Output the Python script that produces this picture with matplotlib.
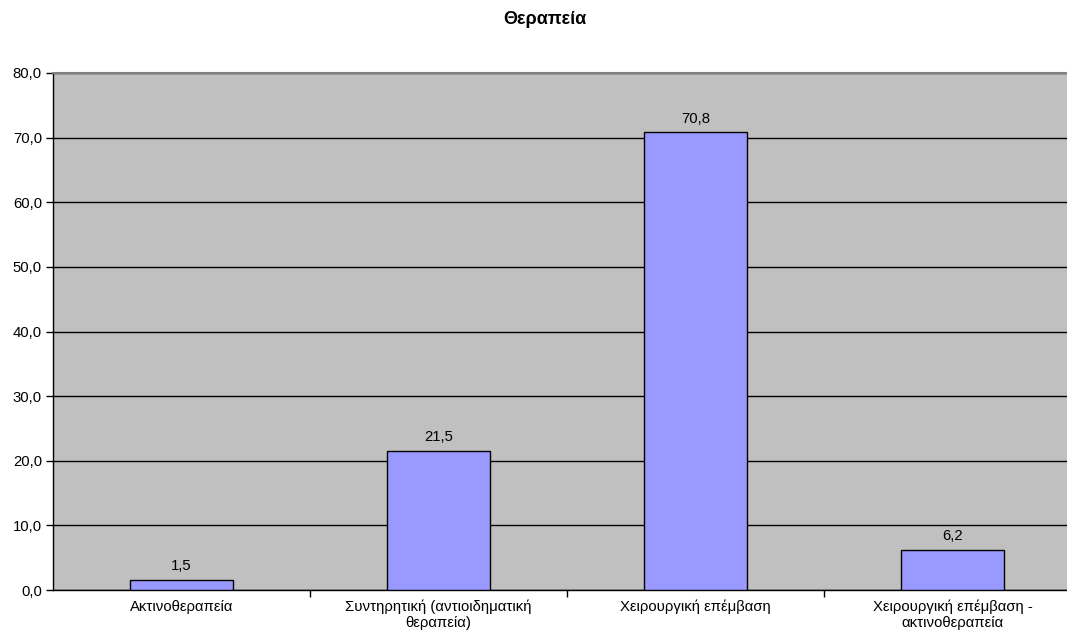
import numpy as np
import matplotlib.pyplot as plt
from matplotlib.ticker import FixedLocator, FuncFormatter

plt.rcParams['font.family'] = ['Liberation Sans', 'DejaVu Sans']

title = "Θεραπεία"
categories = [
    "Ακτινοθεραπεία",
    "Συντηρητική (αντιοιδηματική\nθεραπεία)",
    "Χειρουργική επέμβαση",
    "Χειρουργική επέμβαση -\nακτινοθεραπεία",
]
values = [1.5, 21.5, 70.8, 6.2]

W, H = 1067, 640
fig = plt.figure(figsize=(W / 100, H / 100), dpi=100)
# plot area runs a little past the right edge of the canvas
ax = fig.add_axes([53 / W, 50 / H, 1028 / W, 517 / H])
ax.set_facecolor("#C0C0C0")

x = np.arange(len(categories))
bars = ax.bar(x, values, width=0.4, color="#9999FF", edgecolor="black", linewidth=1, zorder=3)

for xi, v in zip(x, values):
    ax.annotate(f"{v:.1f}".replace(".", ","), (xi, v), xytext=(0, 5), textcoords="offset points",
                ha="center", va="bottom", fontsize=10.7)

ax.set_xlim(-0.5, len(categories) - 0.5)
ax.set_ylim(0, 80)
ax.set_yticks(np.arange(0, 81, 10))
ax.yaxis.set_major_formatter(FuncFormatter(lambda v, p: f"{v:.1f}".replace(".", ",")))
ax.yaxis.grid(True, color="black", linewidth=1, zorder=1)
ax.set_axisbelow(True)

ax.set_xticks(x)
ax.set_xticklabels(categories, fontsize=10.7, linespacing=1.15)
ax.tick_params(axis="x", which="major", length=0, pad=7)
ax.xaxis.set_minor_locator(FixedLocator(np.arange(0.5, len(categories) - 1, 1)))
ax.tick_params(axis="x", which="minor", length=5, width=1, color="black", direction="out")
ax.tick_params(axis="y", length=5, width=1, labelsize=10.7, pad=3, direction="out")

for side in ["left", "bottom"]:
    ax.spines[side].set_color("black")
    ax.spines[side].set_linewidth(1)
ax.spines["top"].set_color("#808080")
ax.spines["top"].set_linewidth(1.5)
ax.spines["right"].set_visible(False)

fig.text(545 / W, 1 - 20 / H, title, ha="center", va="center", fontsize=13, fontweight="bold")

fig.savefig("out.png", dpi=100)
